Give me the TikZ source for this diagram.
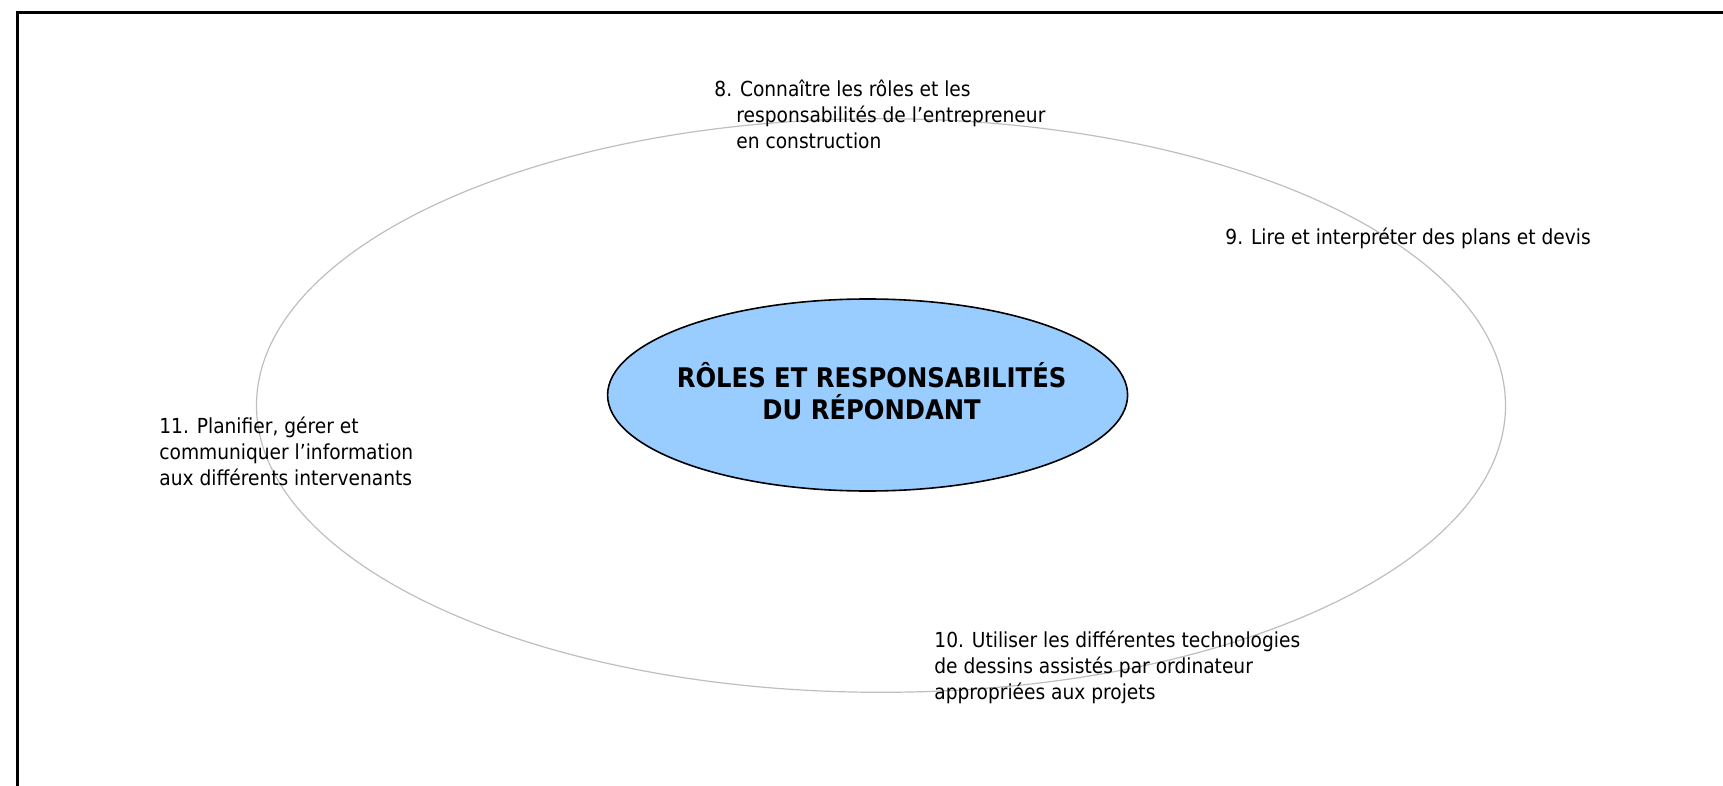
\documentclass[tikz,border=0pt]{standalone}
\usepackage{fontspec}
\setmainfont{DejaVu Sans Condensed}
\usetikzlibrary{shapes.geometric}
\definecolor{hubblue}{RGB}{153,204,255}
\definecolor{ringgray}{RGB}{190,190,190}
\begin{document}
\begin{tikzpicture}[x=0.5pt,y=-0.5pt,inner sep=0,
		item/.style={anchor=north west,align=left,font=\fontsize{10.35}{12.9}\selectfont},
		hub/.style={align=center,font=\bfseries\fontsize{13.5}{16.2}\selectfont}]
		\useasboundingbox (0,0) rectangle (1723,786);
		\draw[line width=1.25pt] (17.5,790) |- (1730,12.7);
		\draw[ringgray,line width=0.6pt] (881,405.5) ellipse[x radius=312.25pt,y radius=143.4pt];
		\draw[line width=0.8pt,fill=hubblue] (867.6,395) ellipse[x radius=130pt,y radius=48pt];
		\node[hub] (R) at (871.6,391) {RÔLES ET RESPONSABILITÉS\\DU RÉPONDANT};
		\node[item] (c8) at (714,79.5) {8. Connaître les rôles et les\\\hspace*{11pt}responsabilités de l’entrepreneur\\\hspace*{11pt}en construction};
		\node[item] (c9) at (1225,227.5) {9. Lire et interpréter des plans et devis};
		\node[item] (c10) at (934,631) {10. Utiliser les différentes technologies\\de dessins assistés par ordinateur\\appropriées aux projets};
		\node[item] (c11) at (159,416.5) {11. Planifier, gérer et\\communiquer l’information\\aux différents intervenants};
	\end{tikzpicture}
\end{document}
